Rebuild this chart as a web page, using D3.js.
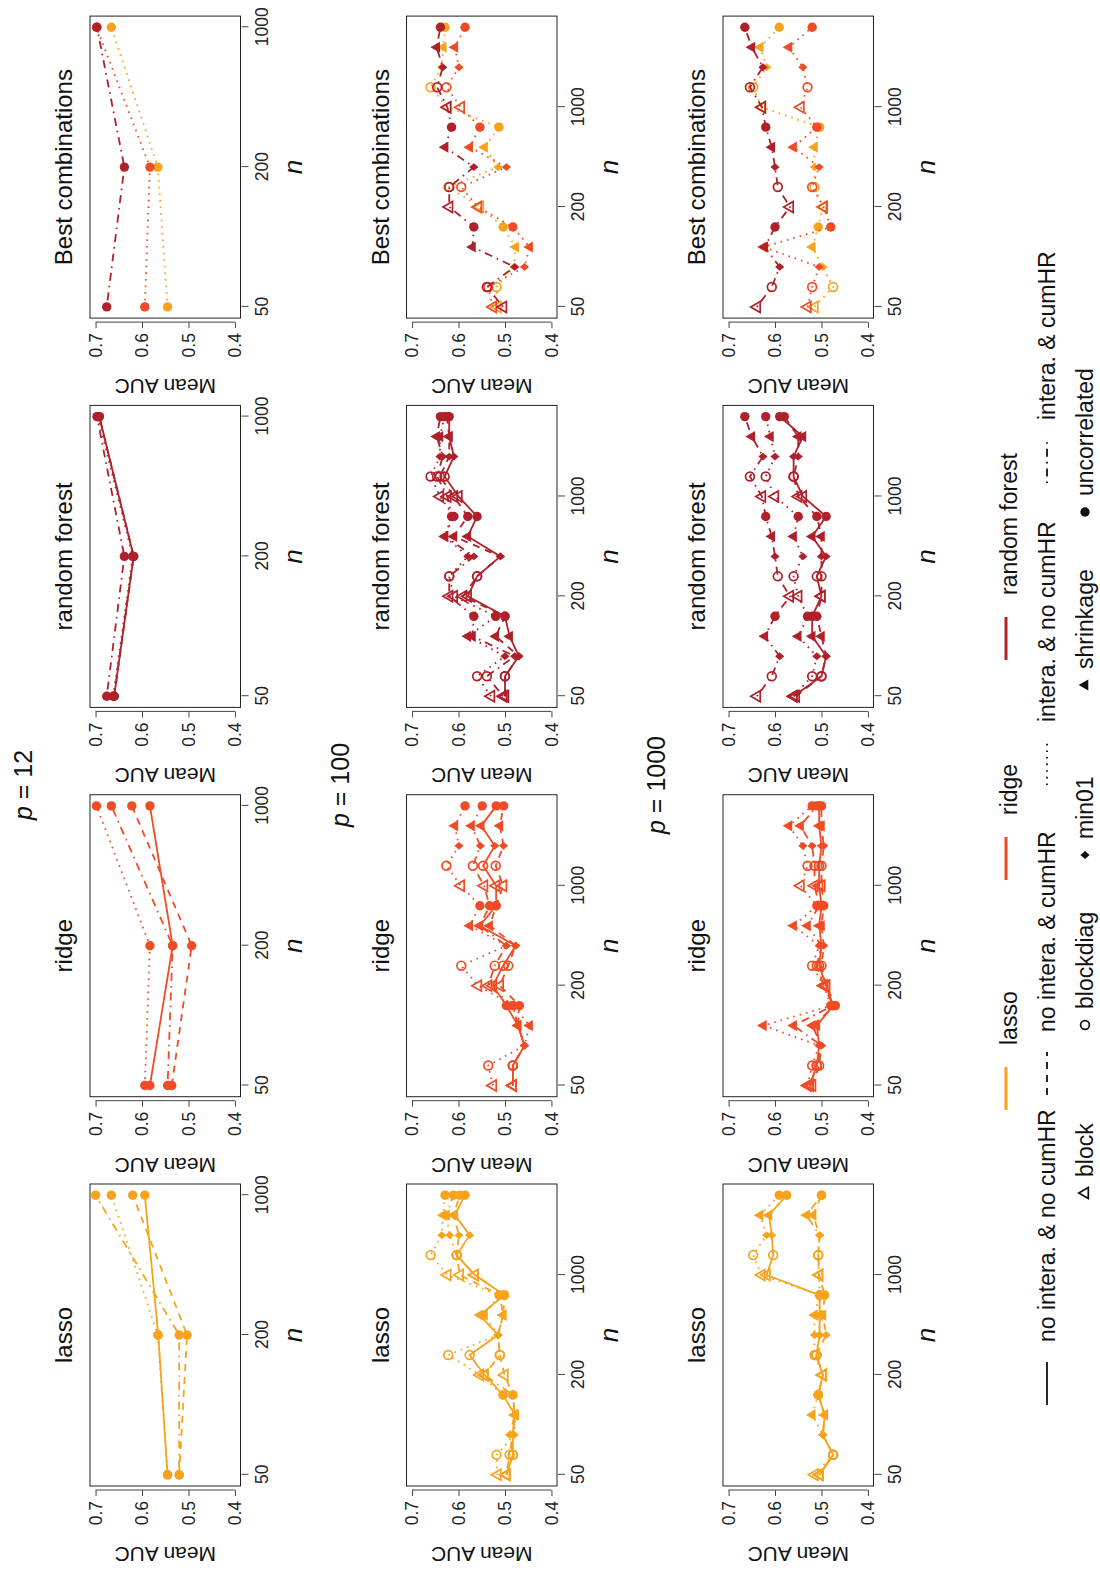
<!DOCTYPE html>
<html lang="en">
<head>
<meta charset="utf-8">
<title>Mean AUC by n</title>
<script src="https://d3js.org/d3.v7.min.js"></script>
<style>
    body { margin: 0; padding: 0; background: #fff; overflow: hidden; }
    svg { display: block; font-family: "Liberation Sans", Arial, sans-serif; }
</style>
</head>
<body>
<svg id="chart"></svg>
<script>
    const methods = ["lasso", "ridge", "random forest"];
    const methodColors = ["#F6A31B", "#EF4B24", "#B0202A"];
    const settings = ["no intera. & no cumHR", "no intera. & cumHR", "intera. & no cumHR", "intera. & cumHR"];
    const structures = ["block", "blockdiag", "min01", "shrinkage", "uncorrelated"];
    const nValues = [50, 200, 1000];
    const pValues = [12, 100, 1000];
    const aucTicks = [0.4, 0.5, 0.6, 0.7];

    // p = 12: uncorrelated only, n = 50, 200, 1000. one row per setting
    const lassoP12 = [
        [0.545, 0.565, 0.594],
        [0.520, 0.503, 0.620],
        [0.545, 0.566, 0.666],
        [0.520, 0.520, 0.700]
    ];
    const ridgeP12 = [
        [0.583, 0.534, 0.583],
        [0.536, 0.493, 0.622],
        [0.594, 0.583, 0.698],
        [0.545, 0.534, 0.666]
    ];
    const rfP12 = [
        [0.660, 0.618, 0.692],
        [0.660, 0.618, 0.692],
        [0.662, 0.620, 0.695],
        [0.676, 0.638, 0.697]
    ];

    // p = 100 / 1000: for each n, the five structures in order
    const lassoP100 = [
        [0.497, 0.483, 0.483, 0.479, 0.504, 0.544, 0.576, 0.515, 0.554, 0.501, 0.565, 0.604, 0.576, 0.608, 0.586],
        [0.497, 0.483, 0.490, 0.479, 0.483, 0.501, 0.511, 0.515, 0.504, 0.511, 0.597, 0.604, 0.599, 0.611, 0.597],
        [0.516, 0.518, 0.480, 0.477, 0.504, 0.554, 0.622, 0.515, 0.544, 0.513, 0.624, 0.660, 0.636, 0.633, 0.629],
        [0.497, 0.490, 0.483, 0.479, 0.483, 0.544, 0.511, 0.515, 0.504, 0.501, 0.565, 0.604, 0.619, 0.626, 0.611]
    ];
    const ridgeP100 = [
        [0.483, 0.483, 0.458, 0.472, 0.497, 0.526, 0.504, 0.477, 0.554, 0.519, 0.519, 0.547, 0.522, 0.551, 0.519],
        [0.483, 0.483, 0.458, 0.472, 0.469, 0.511, 0.493, 0.477, 0.533, 0.519, 0.504, 0.520, 0.503, 0.511, 0.503],
        [0.526, 0.536, 0.458, 0.447, 0.483, 0.558, 0.594, 0.497, 0.576, 0.554, 0.595, 0.626, 0.599, 0.608, 0.586],
        [0.483, 0.483, 0.458, 0.472, 0.483, 0.536, 0.522, 0.497, 0.554, 0.533, 0.545, 0.569, 0.553, 0.572, 0.549]
    ];
    const rfP100 = [
        [0.500, 0.500, 0.470, 0.490, 0.500, 0.580, 0.560, 0.510, 0.580, 0.560, 0.600, 0.630, 0.610, 0.620, 0.620],
        [0.500, 0.500, 0.470, 0.520, 0.500, 0.590, 0.560, 0.510, 0.610, 0.580, 0.610, 0.640, 0.620, 0.620, 0.625],
        [0.530, 0.560, 0.500, 0.580, 0.520, 0.610, 0.620, 0.580, 0.630, 0.610, 0.640, 0.660, 0.640, 0.640, 0.630],
        [0.504, 0.539, 0.479, 0.570, 0.567, 0.620, 0.620, 0.567, 0.629, 0.615, 0.624, 0.646, 0.634, 0.647, 0.639]
    ];
    const lassoP1000 = [
        [0.504, 0.475, 0.497, 0.493, 0.507, 0.497, 0.511, 0.504, 0.504, 0.504, 0.618, 0.604, 0.607, 0.613, 0.575],
        [0.504, 0.475, 0.497, 0.493, 0.507, 0.497, 0.511, 0.490, 0.497, 0.493, 0.505, 0.507, 0.504, 0.518, 0.500],
        [0.515, 0.475, 0.497, 0.520, 0.507, 0.497, 0.515, 0.515, 0.515, 0.504, 0.629, 0.647, 0.618, 0.632, 0.591],
        [0.504, 0.475, 0.497, 0.493, 0.507, 0.497, 0.511, 0.504, 0.504, 0.504, 0.505, 0.507, 0.504, 0.532, 0.500]
    ];
    const ridgeP1000 = [
        [0.525, 0.510, 0.505, 0.510, 0.475, 0.490, 0.505, 0.500, 0.505, 0.500, 0.505, 0.505, 0.500, 0.505, 0.505],
        [0.520, 0.505, 0.500, 0.520, 0.470, 0.490, 0.500, 0.495, 0.500, 0.495, 0.500, 0.500, 0.495, 0.500, 0.500],
        [0.530, 0.520, 0.505, 0.625, 0.480, 0.495, 0.520, 0.505, 0.560, 0.510, 0.545, 0.530, 0.540, 0.570, 0.520],
        [0.525, 0.510, 0.500, 0.560, 0.475, 0.495, 0.510, 0.500, 0.530, 0.505, 0.515, 0.515, 0.520, 0.545, 0.510]
    ];
    const rfP1000 = [
        [0.560, 0.500, 0.490, 0.520, 0.520, 0.500, 0.510, 0.490, 0.520, 0.490, 0.540, 0.560, 0.560, 0.540, 0.590],
        [0.555, 0.500, 0.490, 0.500, 0.510, 0.500, 0.500, 0.500, 0.500, 0.510, 0.550, 0.560, 0.550, 0.550, 0.580],
        [0.560, 0.520, 0.510, 0.550, 0.530, 0.550, 0.560, 0.540, 0.560, 0.550, 0.600, 0.620, 0.600, 0.610, 0.620],
        [0.639, 0.607, 0.590, 0.622, 0.600, 0.568, 0.594, 0.600, 0.607, 0.620, 0.628, 0.654, 0.626, 0.650, 0.665]
    ];

    // which setting is each method's best combination (index into settings)
    const bestP12 = [2, 2, 3];
    const bestP100 = [2, 2, 3];
    const bestP1000 = [2, 2, 3];

    const rows = [
        { p: pValues[0], series: [lassoP12, ridgeP12, rfP12], best: bestP12 },
        { p: pValues[1], series: [lassoP100, ridgeP100, rfP100], best: bestP100 },
        { p: pValues[2], series: [lassoP1000, ridgeP1000, rfP1000], best: bestP1000 }
    ];

    const W = 1100, H = 1570;
    const dashes = [null, "7,6", "1.6,5", "1.6,5,8,5"];

    const svg = d3.select("#chart").attr("width", W).attr("height", H);
    svg.append("rect").attr("width", W).attr("height", H).attr("fill", "#fff");

    // figure is laid out landscape (1570 x 1100) and turned a quarter turn
    const fig = svg.append("g").attr("transform", `translate(0,${H}) rotate(-90)`);

    const panelW = 302, panelH = 150.5;
    const colLeft = c => 84 + c * 389.3;
    const rowTop = r => 90 + r * 316.5;

    function drawMark(sel, shape, color) {
        if (shape === "uncorrelated") {
            sel.append("circle").attr("r", 4.7).attr("fill", color);
        } else if (shape === "blockdiag") {
            sel.append("circle").attr("r", 4.4).attr("fill", "none")
                .attr("stroke", color).attr("stroke-width", 1.7);
        } else if (shape === "block") {
            sel.append("path").attr("d", "M0,-6.2L5.5,3.3L-5.5,3.3Z").attr("fill", "none")
                .attr("stroke", color).attr("stroke-width", 1.7);
        } else if (shape === "shrinkage") {
            sel.append("path").attr("d", "M0,-6.4L5.6,3.3L-5.6,3.3Z").attr("fill", color);
        } else {
            sel.append("path").attr("d", "M0,-4.6L3.9,0L0,4.6L-3.9,0Z").attr("fill", color);
        }
    }

    function drawPanel(r, c) {
        const row = rows[r];
        const g = fig.append("g").attr("transform", `translate(${colLeft(c)},${rowTop(r)})`);
        const nPts = row.series[0][0].length;
        const pad = 0.04 * (nPts - 1);
        const x = d3.scaleLinear().domain([1 - pad, nPts + pad]).range([0, panelW]);
        const y = d3.scaleLinear().domain([0.388, 0.712]).range([panelH, 0]);
        const tickPos = nPts === 3 ? [1, 2, 3] : [1, 6, 11];
        const shapeOf = i => nPts === 3 ? "uncorrelated" : structures[i % 5];

        let lines;
        if (c < 3) {
            lines = settings.map((s, k) => ({ values: row.series[c][k], color: methodColors[c], dash: dashes[k] }));
        } else {
            lines = methods.map((m, mi) => ({
                values: row.series[mi][row.best[mi]],
                color: methodColors[mi],
                dash: dashes[row.best[mi]]
            }));
        }

        // y axis, set a little off the box
        const yAxis = g.append("g").attr("transform", "translate(-4,0)")
            .call(d3.axisLeft(y).tickValues(aucTicks).tickFormat(d3.format(".1f"))
                .tickSize(6).tickPadding(5));
        yAxis.select(".domain").remove();
        yAxis.append("line").attr("y1", y(0.4)).attr("y2", y(0.7)).attr("stroke", "#444");
        yAxis.selectAll(".tick line").attr("stroke", "#444");
        yAxis.selectAll("text").attr("fill", "#222").attr("font-size", 17.5);

        const xAxis = g.append("g").attr("transform", `translate(0,${panelH + 1})`)
            .call(d3.axisBottom(x).tickValues(tickPos).tickFormat((d, i) => nValues[i])
                .tickSize(7).tickPadding(7));
        xAxis.select(".domain").remove();
        xAxis.selectAll(".tick line").attr("stroke", "#444");
        xAxis.selectAll("text").attr("fill", "#222").attr("font-size", 17.5);

        g.append("rect").attr("width", panelW).attr("height", panelH)
            .attr("fill", "none").attr("stroke", "#222").attr("stroke-width", 1);

        const line = d3.line().x((d, i) => x(i + 1)).y(d => y(d));
        lines.forEach(s => {
            g.append("path").datum(s.values).attr("d", line)
                .attr("fill", "none").attr("stroke", s.color).attr("stroke-width", 1.8)
                .attr("stroke-dasharray", s.dash);
            s.values.forEach((v, i) => {
                const m = g.append("g").attr("transform", `translate(${x(i + 1)},${y(v)})`);
                drawMark(m, shapeOf(i), s.color);
            });
        });

        g.append("text").attr("x", panelW / 2).attr("y", -18).attr("text-anchor", "middle")
            .attr("font-size", 24).attr("fill", "#111")
            .text(c < 3 ? methods[c] : "Best combinations");

        g.append("text").attr("transform", `translate(-61,${panelH / 2}) rotate(-90)`)
            .attr("text-anchor", "middle").attr("font-size", 21).attr("fill", "#111")
            .text("Mean AUC");

        g.append("text").attr("x", panelW / 2).attr("y", panelH + 61).attr("text-anchor", "middle")
            .attr("font-size", 26).attr("font-style", "italic").attr("fill", "#111").text("n");
    }

    rows.forEach((row, r) => {
        const t = fig.append("text").attr("x", 785).attr("y", 32 + r * 316.5)
            .attr("text-anchor", "middle").attr("font-size", 25).attr("fill", "#111")
            .attr("xml:space", "preserve");
        t.append("tspan").attr("font-style", "italic").text("p");
        t.append("tspan").text(" = " + row.p);
    });
    rows.forEach((row, r) => {
        for (let c = 0; c < 4; c++) drawPanel(r, c);
    });

    // legend
    const leg = fig.append("g").attr("font-size", 23).attr("fill", "#111");
    const legMethods = [460, 690, 910];
    methods.forEach((m, i) => {
        const x0 = legMethods[i], yy = 1009;
        leg.append("line").attr("x1", x0).attr("x2", x0 + 43).attr("y1", yy - 3).attr("y2", yy - 3)
            .attr("stroke", methodColors[i]).attr("stroke-width", 3);
        leg.append("text").attr("x", x0 + 65).attr("y", yy).attr("dominant-baseline", "central").text(m);
    });
    const legSettings = [165, 475, 785, 1087];
    settings.forEach((s, i) => {
        const x0 = legSettings[i], yy = 1047;
        leg.append("line").attr("x1", x0).attr("x2", x0 + 43).attr("y1", yy).attr("y2", yy)
            .attr("stroke", "#111").attr("stroke-width", 1.8).attr("stroke-dasharray", dashes[i]);
        leg.append("text").attr("x", x0 + 63).attr("y", yy).attr("dominant-baseline", "central").text(s);
    });
    const legShapes = [377, 545, 715, 885, 1058];
    structures.forEach((s, i) => {
        const x0 = legShapes[i], yy = 1085;
        const m = leg.append("g").attr("transform", `translate(${x0},${yy})`);
        drawMark(m, s, "#111");
        leg.append("text").attr("x", x0 + 16).attr("y", yy).attr("dominant-baseline", "central").text(s);
    });
</script>
</body>
</html>
